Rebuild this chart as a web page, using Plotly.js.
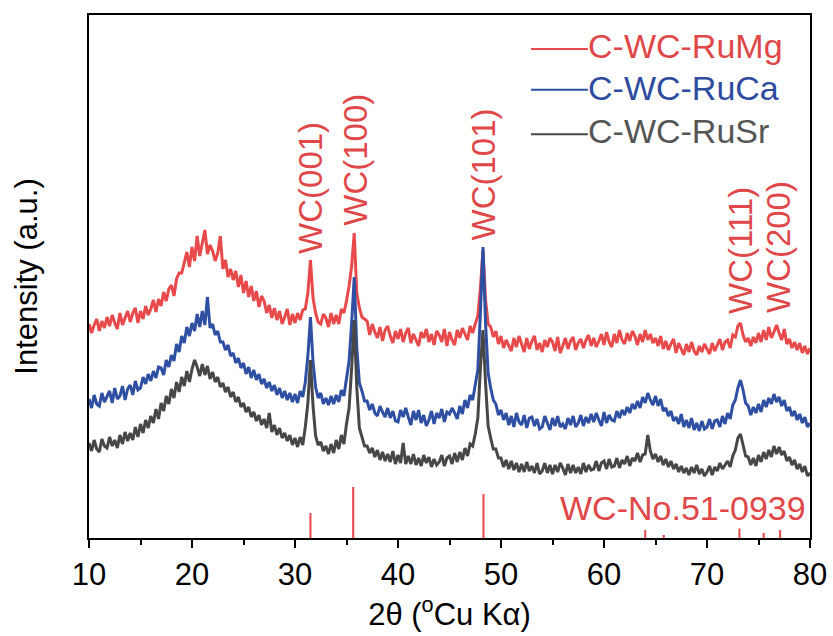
<!DOCTYPE html>
<html>
<head>
<meta charset="utf-8">
<script src="https://cdn.plot.ly/plotly-3.0.1.min.js"></script>
<style>html,body{margin:0;padding:0;background:#fff;}#chart{width:833px;height:636px;}</style>
</head>
<body>
<div id="chart"></div>
<script>
// 2-theta grid: starts at 10 deg, step 0.25 deg (281 points to 80 deg)
const X_START = 10;
const X_STEP = 0.25;

// Intensities (a.u., offset-stacked), one row per degree: d, d+.25, d+.5, d+.75
const ruMg = [
214,205,213,219, 207,217,210,221, 212,223,215,209, 225,213,220,227, 216,225,230,215,
227,219,232,223, 229,238,226,239, 232,246,237,249, 253,242,259,265, 265,277,286,271,
291,277,302,282, 297,308,284,293, 287,277,285,302, 269,278,261,269, 258,267,251,263,
245,257,241,252, 237,247,231,242, 237,225,233,220, 230,218,227,214, 221,229,213,224,
215,225,218,228, 229,245,278,240, 225,216,214,224, 220,211,225,214, 223,214,229,225,
237,252,272,305, 245,230,221,219, 217,203,214,206, 200,211,197,208, 212,202,195,207,
199,209,196,205, 210,195,204,198, 192,206,200,209, 196,204,193,207, 203,196,209,192,
206,198,193,208, 200,210,204,198, 212,205,214,222, 250,288,238,214, 211,201,207,194,
202,190,198,192, 187,200,191,202, 193,186,200,189, 197,202,188,195, 186,198,191,200,
196,187,201,185, 192,200,189,197, 201,188,195,199, 190,198,203,192, 200,191,197,204,
193,206,196,191, 204,195,208,198, 194,205,197,207, 202,193,204,196, 208,198,204,195,
200,192,202,189, 197,188,194,199, 185,195,189,183, 194,186,196,187, 183,192,186,194,
189,184,195,187, 193,199,188,196, 198,190,203,201, 212,215,203,196, 200,192,201,195,
205,196,208,198, 211,200,206,213, 205,198,209,194, 199,190,196,188, 195,185,192,184,
190];

const ruCa = [
139,130,143,134, 132,145,136,142, 147,135,150,139, 142,152,138,149, 153,143,157,148,
150,161,154,164, 157,167,160,171, 170,163,178,171, 183,177,194,186, 202,195,211,202,
215,207,224,211, 227,213,241,210, 214,203,207,196, 196,188,193,182, 185,175,180,170,
175,164,171,160, 168,158,164,154, 159,150,156,147, 153,143,150,140, 147,138,145,136,
144,135,147,141, 156,182,221,176, 151,140,145,134, 140,133,142,134, 143,136,148,142,
158,177,215,261, 190,155,147,137, 137,128,134,125, 122,132,126,121, 130,120,127,117,
116,128,121,130, 121,113,127,118, 128,115,123,112, 118,127,114,125, 120,129,116,126,
124,130,125,119, 132,124,138,130, 143,138,153,168, 225,291,215,165, 150,138,134,123,
128,118,125,113, 122,111,125,116, 113,123,110,120, 121,112,119,109, 111,122,115,108,
120,112,122,111, 114,109,120,113, 122,111,115,123, 112,121,115,124, 116,125,118,112,
126,115,123,118, 117,127,120,128, 123,131,125,134, 129,137,130,141, 135,145,138,133,
142,132,139,127, 130,122,127,117, 121,114,124,111, 118,110,120,108, 115,107,117,109,
111,119,109,117, 118,111,122,114, 125,119,133,138, 150,158,148,135, 132,123,131,125,
134,126,138,131, 140,134,144,136, 141,132,138,127, 131,122,127,118, 124,115,121,111,
115];

const ruSr = [
95,87,98,89, 86,99,92,90, 101,92,98,90, 103,94,106,97, 105,98,111,101,
114,105,118,110, 122,115,129,119, 135,127,142,134, 149,140,156,146, 161,152,167,156,
169,178,171,162, 174,163,172,159, 166,156,161,151, 155,146,151,141, 146,136,141,131,
135,126,131,121, 126,117,123,113, 119,110,125,106, 113,103,110,100, 105,97,103,93,
100,91,101,93, 111,135,178,132, 102,93,96,87, 92,84,94,85, 98,89,103,94,
114,130,170,218, 150,110,101,92, 92,85,90,81, 88,78,86,77, 84,76,87,74,
83,75,95,74, 82,74,84,73, 80,72,83,75, 81,71,79,73, 76,83,72,80,
82,74,85,76, 86,78,90,82, 94,92,104,120, 170,208,155,112, 100,89,89,80,
80,71,78,69, 77,68,75,66, 74,66,76,67, 72,65,75,64, 67,75,65,73,
64,73,66,75, 70,63,74,65, 73,65,71,64, 75,66,73,68, 69,77,67,75,
77,69,79,71, 72,80,70,78, 74,82,72,80, 77,85,76,83, 84,103,87,79,
84,76,82,73, 79,71,77,69, 74,66,72,65, 70,63,71,65, 73,64,69,62,
66,72,63,71, 67,75,69,73, 77,71,82,88, 100,104,92,82, 81,73,80,72,
83,76,86,79, 88,81,92,84, 91,83,87,77, 81,73,78,69, 74,66,72,62,
65];

// Reference pattern WC-No.51-0939 (position, relative height)
const refPos = [31.5, 35.65, 48.3, 64.0, 65.8, 73.15, 75.5, 77.1];
const refH   = [25, 51, 44, 8, 3, 9.5, 5, 8];

// Peak labels
const peakText = ['WC(001)', 'WC(100)', 'WC(101)', 'WC(111)', 'WC(200)'];
const peakPos  = [31.45, 35.8, 48.3, 73.2, 76.9];
const peakLabelY = [350, 378, 364, 288, 291];

const seriesNames = ['C-WC-RuMg', 'C-WC-RuCa', 'C-WC-RuSr'];
const lineColors = ['#e8494b', '#2f4fa2', '#474747'];
const textColors = ['#e04749', '#2e4c9e', '#555555'];
const RED_TEXT = '#e04749';
const FONT = 'Liberation Sans, Arial, Helvetica, sans-serif';

const seriesData = [ruMg, ruCa, ruSr];

const traces = [{
  type: 'bar', x: refPos, y: refH, width: 0.2, base: 0,
  marker: {color: '#e8494b', line: {width: 0}},
  showlegend: false, hoverinfo: 'skip'
}];
seriesData.forEach((d, i) => {
  traces.push({
    type: 'scatter', mode: 'lines', x0: X_START, dx: X_STEP, y: d,
    name: seriesNames[i], line: {color: lineColors[i], width: 3},
    showlegend: false
  });
});

const annotations = [];
peakText.forEach((t, i) => {
  annotations.push({
    x: peakPos[i], y: peakLabelY[i], xref: 'x', yref: 'y', text: t, showarrow: false,
    textangle: -90, xanchor: 'center', yanchor: 'middle',
    font: {family: FONT, size: 33, color: RED_TEXT}
  });
});
annotations.push({
  x: 67.7, y: 30, xref: 'x', yref: 'y', text: 'WC-No.51-0939', showarrow: false,
  xanchor: 'center', yanchor: 'middle', font: {family: FONT, size: 34, color: RED_TEXT}
});

// custom legend (line sample + coloured text)
const legY = [0.935, 0.857, 0.772];
const legTextY = [0.940, 0.860, 0.778];
const shapes = [];
seriesNames.forEach((n, i) => {
  shapes.push({type: 'line', xref: 'paper', yref: 'paper', x0: 0.613, x1: 0.692,
    y0: legY[i], y1: legY[i], line: {color: lineColors[i], width: 2}});
  annotations.push({x: 0.690, y: legTextY[i], xref: 'paper', yref: 'paper', text: n,
    showarrow: false, xanchor: 'left', yanchor: 'middle',
    font: {family: FONT, size: 34, color: textColors[i]}});
});

const layout = {
  width: 833, height: 636,
  margin: {l: 89, r: 23, t: 15, b: 98, pad: 0},
  paper_bgcolor: '#ffffff', plot_bgcolor: '#ffffff',
  showlegend: false,
  font: {family: FONT, color: '#000000'},
  xaxis: {
    range: [10, 80], tick0: 10, dtick: 10, ticks: 'outside', ticklen: 8, tickwidth: 2,
    tickcolor: '#000', showline: true, linewidth: 2, linecolor: '#000', mirror: true,
    showgrid: false, zeroline: false, tickfont: {family: FONT, size: 31, color: '#000'},
    minor: {dtick: 5, ticks: 'outside', ticklen: 5, tickwidth: 2, tickcolor: '#000', showgrid: false},
    title: {text: '2θ (<sup>o</sup>Cu Kα)', font: {family: FONT, size: 31, color: '#000'}, standoff: 3}
  },
  yaxis: {
    range: [0, 523], showticklabels: false, ticks: '', showline: true, linewidth: 2,
    linecolor: '#000', mirror: true, showgrid: false, zeroline: false,
    title: {text: 'Intensity (a.u.)', font: {family: FONT, size: 31, color: '#000'}, standoff: 40}
  },
  annotations: annotations,
  shapes: shapes
};

Plotly.newPlot('chart', traces, layout, {displayModeBar: false, staticPlot: true});
</script>
</body>
</html>
